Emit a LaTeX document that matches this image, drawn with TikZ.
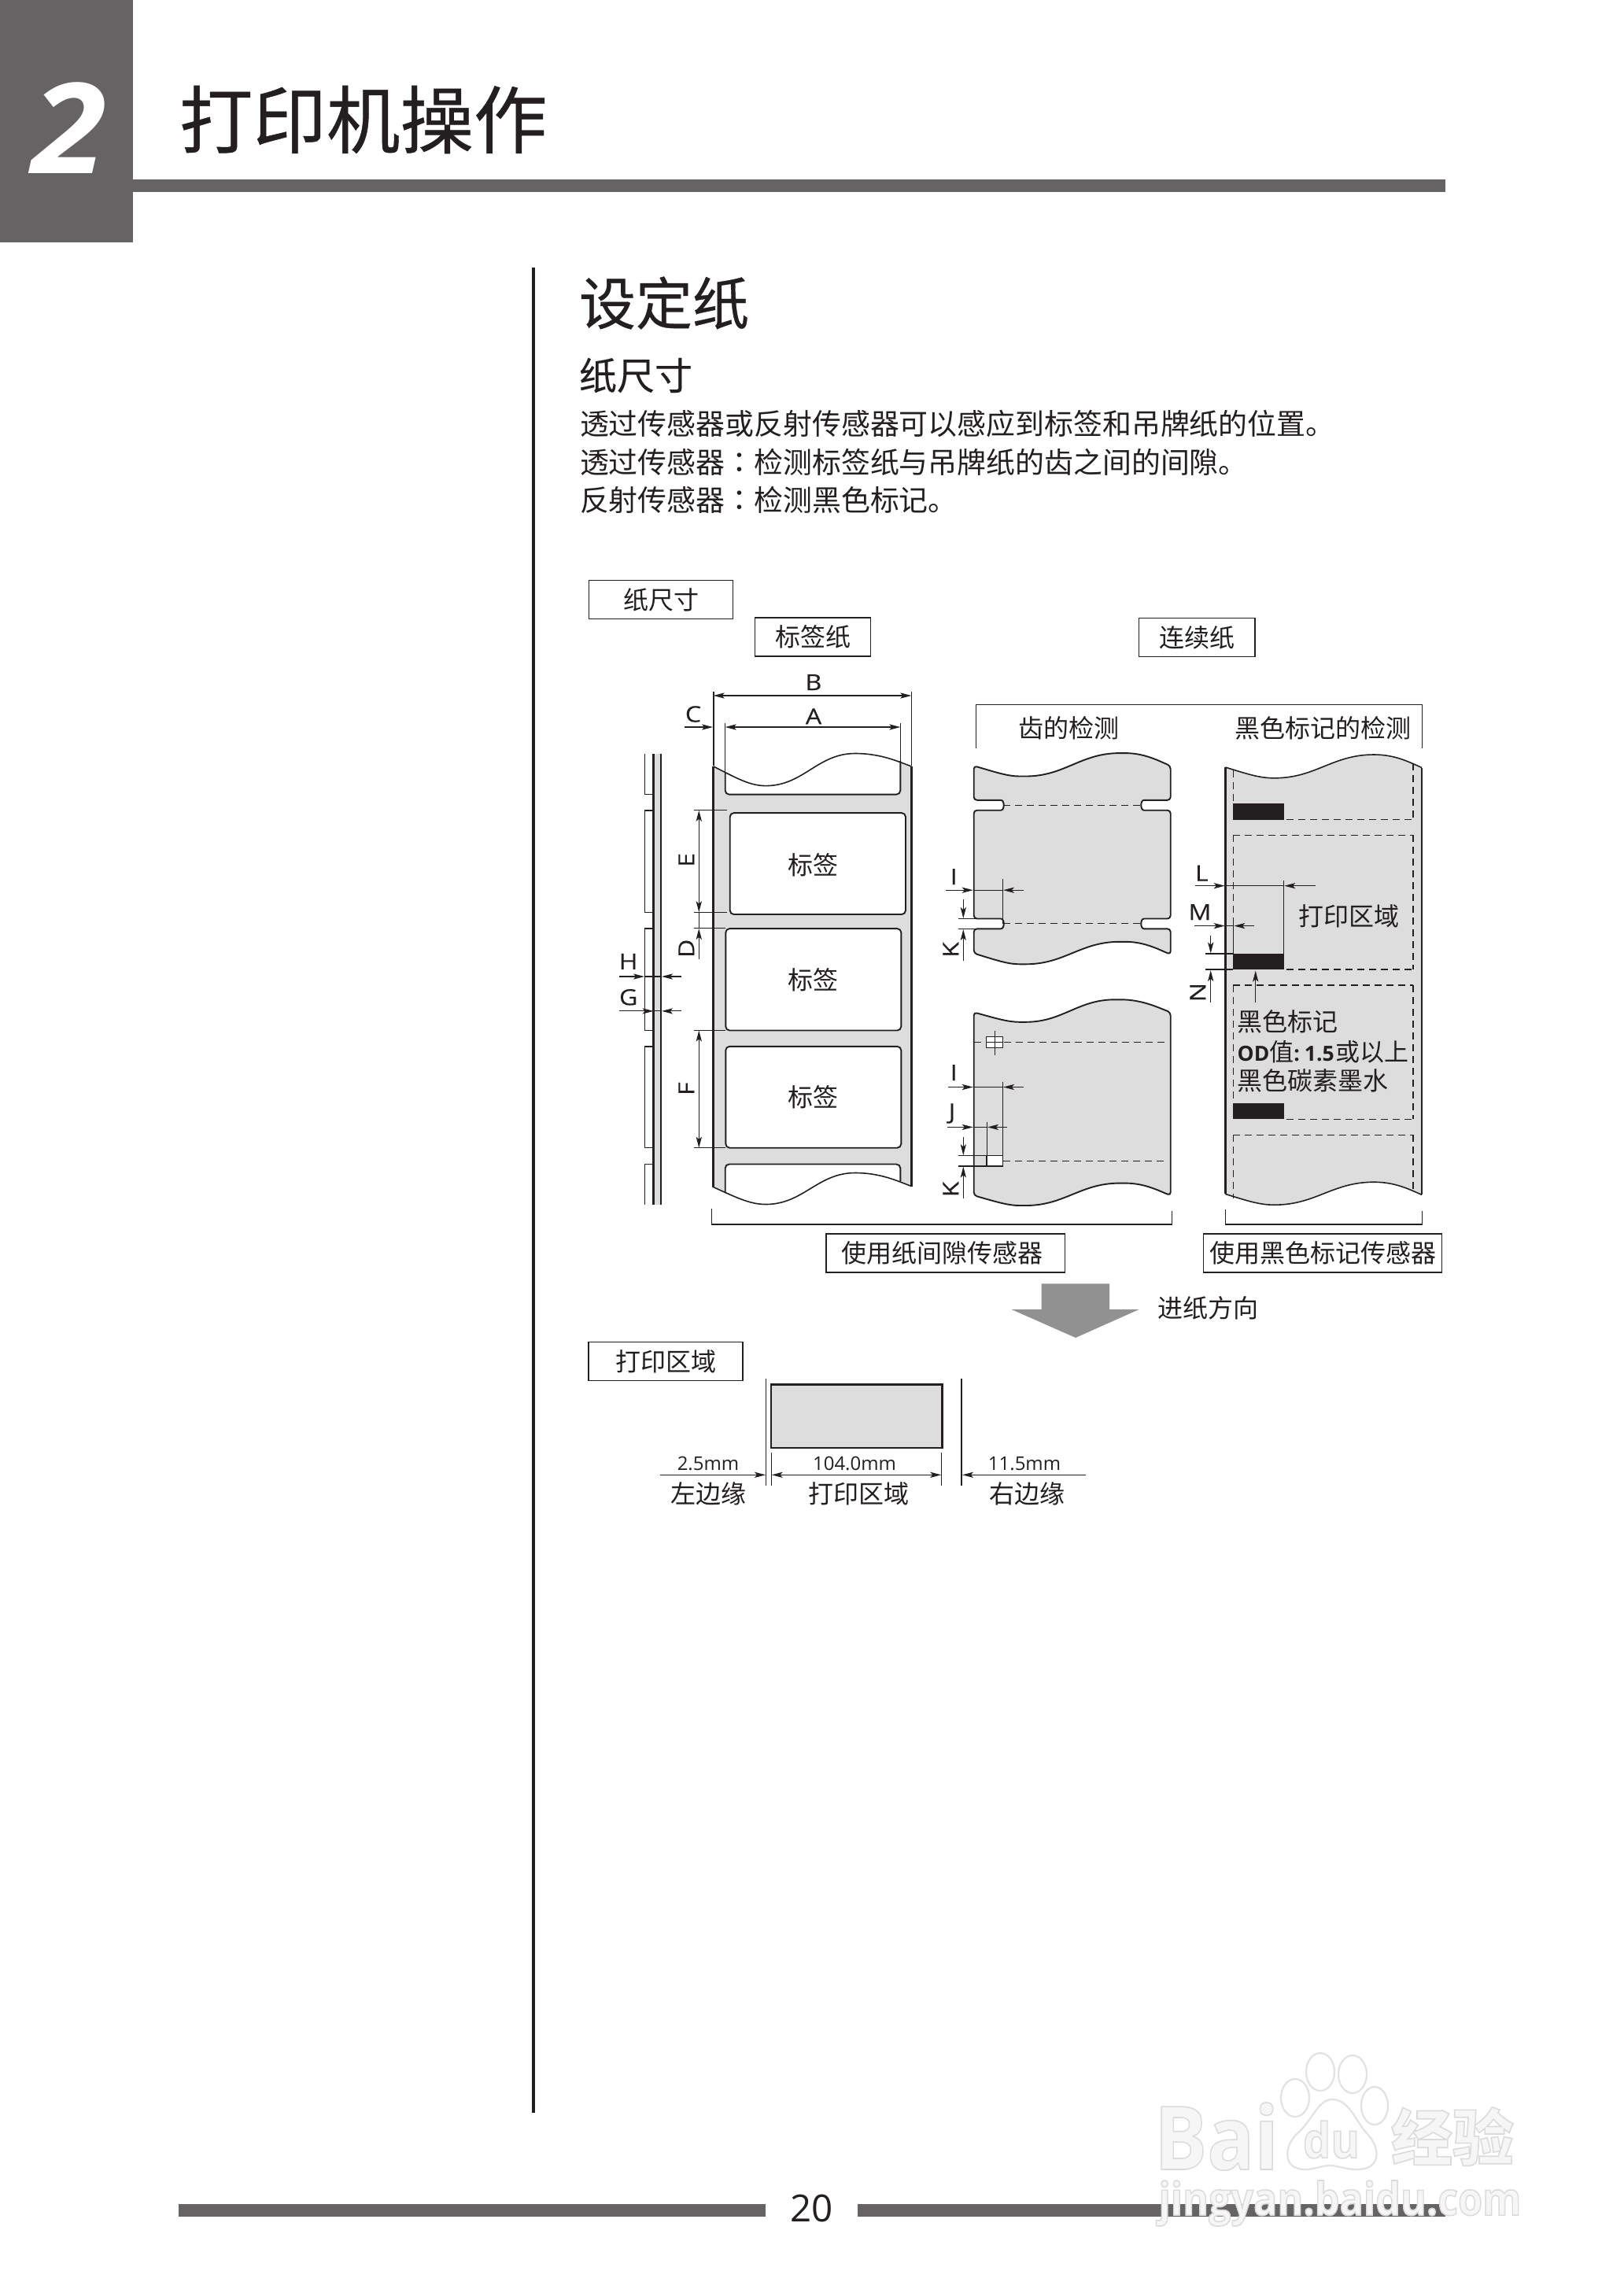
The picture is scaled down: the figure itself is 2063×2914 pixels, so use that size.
\documentclass[tikz,border=0pt]{standalone}
\usepackage{fontspec}
\usetikzlibrary{arrows.meta}
\setmainfont{Noto Sans CJK SC}
\newfontfamily\cjkmed[FakeBold=0.5]{Noto Sans CJK SC}
\newfontfamily\cjksub[FakeBold=0.25]{Noto Sans CJK SC}
\newfontfamily\cjktc{Noto Sans CJK TC}
\newfontfamily\lat{Open Sans}
\newfontfamily\latw[FakeStretch=1.15,FakeBold=0.15]{Open Sans}
\newcommand\fs[1]{\fontsize{\fpeval{#1/2}}{\fpeval{#1*0.6}}\selectfont}
\newcommand\wmtxt[1]{\special{pdf:code 2 Tr 0.8 w 0.86 G}#1\special{pdf:code 0 Tr}}
\definecolor{ink}{HTML}{231F20}
\definecolor{band}{HTML}{656364}
\definecolor{paper}{HTML}{DDDDDD}
\definecolor{wmk}{HTML}{E2E2E2}
\definecolor{wmf}{HTML}{F6F6F6}
\newcommand\wvf[8]{(#1,#2) .. controls ({#1+0.45*(#3)},{#2+0.62*(#4)}) and ({#1+0.7*(#3)},{#2+(#4)}) .. ({#1+(#3)},{#2+(#4)}) .. controls ({#1+(#3)+0.42*((#5)-(#3))},{#2+(#4)}) and ({#1+(#5)-0.42*((#5)-(#3))},{#2+(#6)}) .. ({#1+(#5)},{#2+(#6)}) .. controls ({#1+(#5)+0.45*((#7)-(#5))},{#2+(#6)}) and ({#1+(#5)+0.75*((#7)-(#5))},{#2+(#8)+0.4*((#6)-(#8))}) .. ({#1+(#7)},{#2+(#8)})}
\newcommand\wvr[8]{.. controls ({#1+(#5)+0.75*((#7)-(#5))},{#2+(#8)+0.4*((#6)-(#8))}) and ({#1+(#5)+0.45*((#7)-(#5))},{#2+(#6)}) .. ({#1+(#5)},{#2+(#6)}) .. controls ({#1+(#5)-0.42*((#5)-(#3))},{#2+(#6)}) and ({#1+(#3)+0.42*((#5)-(#3))},{#2+(#4)}) .. ({#1+(#3)},{#2+(#4)}) .. controls ({#1+0.7*(#3)},{#2+(#4)}) and ({#1+0.45*(#3)},{#2+0.62*(#4)}) .. (#1,#2)}
\tikzset{
  txt/.style={inner sep=0pt,outer sep=0pt,text=ink},
  zh/.style={txt,font=\fs{32}},
  let/.style={txt,font=\fs{28}\latw},
  mmt/.style={txt,font=\fs{24}\lat},
  boxn/.style={txt,font=\fs{32},draw=ink,line width=0.75pt,minimum width=#1*0.5pt,minimum height=24.5pt},
  thinl/.style={draw=ink,line width=0.55pt},
  dimr/.style={thinl,-{Stealth[length=7pt,width=3.6pt,inset=1.6pt]}},
  dimb/.style={thinl,{Stealth[length=7pt,width=3.6pt,inset=1.6pt]}-{Stealth[length=7pt,width=3.6pt,inset=1.6pt]}},
  lab/.style={draw=ink,line width=0.95pt,rounded corners=2.5pt},
  sidel/.style={draw=ink,line width=1.4pt},
  wavel/.style={draw=ink,line width=0.8pt},
  outl/.style={draw=ink,line width=0.95pt,fill=paper,rounded corners=2pt},
  dthin/.style={draw=ink,line width=0.5pt,dash pattern=on 4.5pt off 3pt},
  dthick/.style={draw=ink,line width=0.9pt,dash pattern=on 4.5pt off 3pt},
  wml/.style={draw=wmk,line width=1.1pt},
  wmn/.style={inner sep=0pt,text=wmf}
}
\begin{document}
\begin{tikzpicture}[x=0.5pt,y=-0.5pt]
\useasboundingbox (0,0) rectangle (2063,2914);
\fill[white] (0,0) rectangle (2063,2914);
% header
\fill[band] (0,0) rectangle (169,307.7);
\fill[band] (169,228) rectangle (1836.7,243.7);
\node[inner sep=0pt,text=white,font=\fs{160}\lat\bfseries\itshape] (chapno) at (88,163) {\scalebox{1.08}[1]{2}};
\node[txt,anchor=west,font=\fs{93.5}\cjkmed] (title) at (228,152) {打印机操作};
\fill[ink] (676,340) rectangle (680,2685);
\node[txt,anchor=west,font=\fs{72}\cjkmed] (sec) at (736,385) {设定纸};
\node[txt,anchor=west,font=\fs{48}\cjksub] (subsec) at (736,477) {纸尺寸};
\node[txt,anchor=west,font=\fs{36.9}] (p1) at (737,538) {透过传感器或反射传感器可以感应到标签和吊牌纸的位置。};
\node[txt,anchor=west,font=\fs{36.9}] (p2) at (737,587) {透过传感器{\cjktc ：}检测标签纸与吊牌纸的齿之间的间隙。};
\node[txt,anchor=west,font=\fs{36.9}] (p3) at (737,635) {反射传感器{\cjktc ：}检测黑色标记。};
% boxes
\node[boxn=183.4] (bsize) at (840,762) {纸尺寸};
\node[boxn=147.4] (blabel) at (1033,809.6) {标签纸};
\node[boxn=147.7] (bcont) at (1521.2,810) {连续纸};
\node[boxn=303.4] (bgap) at (1201.6,1592.6) {使用纸间隙传感器\hspace*{3.7pt}};
\node[boxn=303.4] (bmark) at (1681,1592.6) {使用黑色标记传感器};
% label paper
\fill[paper] \wvf{906.7}{973.9}{66.6}{24.7}{180}{-16.4}{251.6}{0} -- (1158.3,1507.5) \wvr{906.7}{1508.6}{66.6}{21.9}{180}{-18.1}{251.6}{-1.1} -- cycle;
\fill[white,rounded corners=2.5pt] (921.7,940) -- (921.7,1009.6) -- (1144.3,1009.6) -- (1144.3,940) -- cycle;
\fill[white,rounded corners=2.5pt] (921.7,1545) -- (921.7,1479.5) -- (1144.3,1479.5) -- (1144.3,1545) -- cycle;
\path[lab,fill=white] (927.7,1033.1) rectangle (1151,1162);
\path[lab,fill=white] (922.3,1180.1) rectangle (1145.3,1309.5);
\path[lab,fill=white] (922.3,1329.8) rectangle (1145.3,1458.7);
\path[lab] (921.7,983) -- (921.7,1009.6) -- (1144.3,1009.6) -- (1144.3,967);
\path[lab] (921.7,1515) -- (921.7,1479.5) -- (1144.3,1479.5) -- (1144.3,1501);
\path[wavel] \wvf{906.7}{973.9}{66.6}{24.7}{180}{-16.4}{251.6}{0};
\path[wavel] \wvf{906.7}{1508.6}{66.6}{21.9}{180}{-18.1}{251.6}{-1.1};
\path[sidel] (906.7,973.9) -- (906.7,1508.6);
\path[sidel] (1158.3,973.9) -- (1158.3,1507.5);
\node[zh] (t1) at (1033.3,1099.5) {标签};
\node[zh] (t2) at (1033.3,1245.4) {标签};
\node[zh] (t3) at (1033.3,1394.5) {标签};
% A B C
\path[thinl,line width=0.8pt] (906.7,879) -- (906.7,973);
\path[thinl] (1158.3,879) -- (1158.3,973);
\path[thinl] (921.7,918.5) -- (921.7,983);
\path[thinl] (1144.3,918.5) -- (1144.3,967);
\path[dimb] (906.7,884) -- (1158.3,884);
\path[dimb] (921.7,924) -- (1144.3,924);
\path[dimr] (870,924) -- (906,924);
\node[let] (lB) at (1034,867) {B};
\node[let] (lA) at (1034,910.3) {A};
\node[let] (lC) at (881,907.5) {C};
% side view
\fill[paper] (830.7,957.5) rectangle (840,1530.5);
\path[sidel] (830.7,957.5) -- (830.7,1530.5);
\path[sidel] (840,957.5) -- (840,1530.5);
\path[thinl,line width=0.7pt] (819.3,957.5) -- (819.3,1009.6) -- (830.7,1009.6);
\path[thinl,line width=0.7pt] (830.7,1029.8) -- (819.3,1029.8) -- (819.3,1159.3) -- (830.7,1159.3);
\path[thinl,line width=0.7pt] (830.7,1180.1) -- (819.3,1180.1) -- (819.3,1309.5) -- (830.7,1309.5);
\path[thinl,line width=0.7pt] (830.7,1329.8) -- (819.3,1329.8) -- (819.3,1458.7) -- (830.7,1458.7);
\path[thinl,line width=0.7pt] (830.7,1479.5) -- (819.3,1479.5) -- (819.3,1530.5);
% H G
\path[dimr] (787,1241) -- (819,1241);
\path[dimr] (866,1241) -- (841,1241);
\path[thinl] (819,1241) -- (841,1241);
\path[dimr] (787,1284.9) -- (830.5,1284.9);
\path[dimr] (866,1284.9) -- (841,1284.9);
\path[thinl] (830,1284.9) -- (841,1284.9);
\node[let] (lH) at (798.7,1221.8) {H};
\node[let] (lG) at (798.7,1267.3) {G};
% E D F
\path[thinl] (882.3,1029.8) -- (924,1029.8);
\path[thinl] (882.3,1159.3) -- (924,1159.3);
\path[thinl,line width=0.8pt] (882.3,1179.6) -- (922,1179.6);
\path[thinl] (882.3,1309.5) -- (922,1309.5);
\path[thinl] (882.3,1458.7) -- (922,1458.7);
\path[dimb,line width=0.8pt] (888.3,1029.8) -- (888.3,1159.3);
\path[thinl,line width=0.8pt] (888.3,1159.3) -- (888.3,1179.6);
\path[dimr,line width=0.8pt] (888.3,1219) -- (888.3,1180);
\path[dimb,line width=0.8pt] (888.3,1309.5) -- (888.3,1458.7);
\node[let,rotate=90] (lE) at (872.3,1092.9) {E};
\node[let,rotate=90] (lD) at (872.3,1205.3) {D};
\node[let,rotate=90] (lF) at (872.3,1383.6) {F};
% brackets
\path[thinl,line width=0.65pt] (904.3,1536) -- (904.3,1556) -- (1489.3,1556) -- (1489.3,1539);
\path[thinl,line width=0.65pt] (1557.3,1536.7) -- (1557.3,1556) -- (1807.3,1556) -- (1807.3,1539);
\path[thinl,line width=0.65pt] (1240.3,951.2) -- (1240.3,895.2) -- (1807.3,895.2) -- (1807.3,951);
\node[zh] (th1) at (1358.3,925) {齿的检测};
\node[zh] (th2) at (1681.7,925) {黑色标记的检测};
% notched paper
\path[outl] \wvf{1237.7}{973.2}{62}{13.3}{189}{-16.1}{250}{0} -- (1487.7,1016.8) -- (1458,1016.8) .. controls (1449,1016.8) and (1449,1029.7) .. (1458,1029.7) -- (1487.7,1029.7) -- (1487.7,1167.5) -- (1458,1167.5) .. controls (1449,1167.5) and (1449,1180.3) .. (1458,1180.3) -- (1487.7,1180.3) -- (1487.7,1212.9) \wvr{1237.7}{1211.5}{62}{13.8}{189}{-14.7}{250}{1.4} -- (1237.7,1180.3) -- (1268,1180.3) .. controls (1277,1180.3) and (1277,1167.5) .. (1268,1167.5) -- (1237.7,1167.5) -- (1237.7,1029.7) -- (1268,1029.7) .. controls (1277,1029.7) and (1277,1016.8) .. (1268,1016.8) -- (1237.7,1016.8) -- cycle;
\path[dthin] (1275,1023.3) -- (1451.7,1023.3);
\path[dthin] (1275,1173.9) -- (1451.7,1173.9);
\path[thinl] (1274.3,1117) -- (1274.3,1173.9);
\path[dimr] (1202.3,1131.2) -- (1236.7,1131.2);
\path[dimr] (1300.7,1131.2) -- (1275,1131.2);
\path[thinl] (1236.7,1131.2) -- (1275,1131.2);
\path[thinl] (1218.3,1167.5) -- (1240,1167.5);
\path[thinl] (1218.3,1180.3) -- (1240,1180.3);
\path[dimr] (1224.3,1143.1) -- (1224.3,1167);
\path[dimr] (1224.3,1220.7) -- (1224.3,1181);
\node[let] (lI1) at (1212.3,1114.2) {I};
\node[let,rotate=90] (lK1) at (1208.3,1207) {K};
% hole paper
\path[outl] \wvf{1237.7}{1286.4}{62}{12.4}{183}{-16.1}{250}{0} -- (1487.7,1519.2) \wvr{1237.7}{1519.2}{62}{12.8}{189}{-15.6}{250}{0} -- cycle;
\path[dthick] (1238.3,1324.5) -- (1253,1324.5);
\path[dthick] (1275.5,1324.5) -- (1483.3,1324.5);
\path[draw=ink,line width=0.7pt,fill=white] (1253.7,1317.6) rectangle (1274.7,1331.4);
\path[thinl] (1253.7,1324.5) -- (1274.7,1324.5);
\path[thinl] (1264.3,1310.3) -- (1264.3,1340.6);
\path[dthin] (1275,1475.6) -- (1483.3,1475.6);
\path[draw=ink,line width=0.7pt,fill=white] (1253.7,1468.7) rectangle (1274.7,1482);
\path[thinl,line width=0.9pt] (1253.9,1468.7) -- (1253.9,1482);
\path[thinl] (1274.3,1374.6) -- (1274.3,1468.7);
\path[thinl] (1254.3,1425.5) -- (1254.3,1468.7);
\path[dimr] (1205,1381.5) -- (1236.7,1381.5);
\path[dimr] (1300.7,1381.5) -- (1275,1381.5);
\path[thinl] (1236.7,1381.5) -- (1275,1381.5);
\path[dimr] (1204,1432.4) -- (1236.7,1432.4);
\path[dimr] (1280,1432.4) -- (1255,1432.4);
\path[thinl] (1236.7,1432.4) -- (1255,1432.4);
\path[thinl] (1218.3,1468.7) -- (1253.7,1468.7);
\path[thinl] (1218.3,1482) -- (1253.7,1482);
\path[dimr] (1224.3,1444.8) -- (1224.3,1468.2);
\path[dimr] (1224.3,1522.9) -- (1224.3,1482.5);
\node[let] (lI2) at (1212.3,1363) {I};
\node[let] (lJ) at (1210,1415) {J};
\node[let,rotate=90] (lK2) at (1208.3,1511.4) {K};
% mark paper
\fill[paper] \wvf{1557.3}{975}{62}{13.8}{189}{-16}{249.7}{0.5} -- (1807,1518.3) \wvr{1557.3}{1517.4}{62}{13.8}{189}{-15.2}{249.7}{0.9} -- cycle;
\path[wavel] \wvf{1557.3}{975}{62}{13.8}{189}{-16}{249.7}{0.5};
\path[wavel] \wvf{1557.3}{1517.4}{62}{13.8}{189}{-15.2}{249.7}{0.9};
\path[sidel] (1557.3,975) -- (1557.3,1517.4);
\path[sidel] (1807,975.5) -- (1807,1518.3);
\path[dthin] (1567.3,978.7) -- (1567.3,1021);
\path[dthin] (1567.3,1061.4) -- (1567.3,1212);
\path[dthin] (1567.3,1252) -- (1567.3,1402);
\path[dthin] (1567.3,1442.1) -- (1567.3,1523);
\path[dthick] (1796,969.5) -- (1796,1041.6);
\path[dthick] (1796,1061.4) -- (1796,1232.2);
\path[dthick] (1796,1252) -- (1796,1422.3);
\path[dthick] (1796,1442.1) -- (1796,1511.4);
\path[dthin] (1635,1041.6) -- (1796,1041.6);
\path[dthin] (1567.3,1061.4) -- (1796,1061.4);
\path[dthick] (1635,1232.2) -- (1796,1232.2);
\path[dthick] (1567.3,1252) -- (1796,1252);
\path[dthin] (1635,1422.3) -- (1796,1422.3);
\path[dthin] (1567.3,1442.1) -- (1796,1442.1);
\fill[ink] (1567.3,1021) rectangle (1632,1041.6);
\fill[ink] (1567.3,1212) rectangle (1632,1232.2);
\fill[ink] (1567.3,1402.1) rectangle (1632,1422.3);
\path[thinl] (1631.7,1118.8) -- (1631.7,1212);
\path[thinl] (1567.3,1170) -- (1567.3,1212);
\path[dimr] (1519,1125.7) -- (1556.7,1125.7);
\path[dimr] (1672,1125.7) -- (1632.3,1125.7);
\path[thinl] (1556.7,1125.7) -- (1632.3,1125.7);
\path[dimr] (1518.3,1176.6) -- (1556.7,1176.6);
\path[dimr] (1594,1176.6) -- (1568.3,1176.6);
\path[thinl] (1556.7,1176.6) -- (1568.3,1176.6);
\path[thinl] (1532.3,1212) -- (1567.3,1212);
\path[draw=ink,line width=1pt] (1532.3,1232.2) -- (1567.3,1232.2);
\path[dimr] (1538.7,1188.6) -- (1538.7,1211.5);
\path[dimr] (1538.7,1273.5) -- (1538.7,1233);
\path[dimr] (1595.7,1273.5) -- (1595.7,1233.6);
\node[let] (lL) at (1527.3,1109.6) {L};
\node[let] (lM) at (1525,1159.2) {M};
\node[let,rotate=90] (lN) at (1522.3,1261) {N};
\node[zh] (pa) at (1714,1164.7) {打印区域};
\node[zh,anchor=west] (bm1) at (1572.7,1297.9) {黑色标记};
\node[txt,font=\fs{31},anchor=west] (bm2) at (1572.7,1336.9) {{\fs{26.5}\lat\bfseries OD}值{\fs{26.5}\lat\bfseries:\hspace{3pt}1.5}\hspace{1pt}或以上};
\node[zh,anchor=west] (bm3) at (1572.7,1373.6) {黑色碳素墨水};
% feed arrow
\fill[black!43] (1323.7,1631.3) -- (1410.2,1631.3) -- (1410.2,1664) -- (1447.7,1664) -- (1367,1700) -- (1285.5,1664) -- (1323.7,1664) -- cycle;
\node[zh] (feed) at (1535.6,1662.3) {进纸方向};
% print area
\node[boxn=196.1] (bpa) at (846,1730) {打印区域};
\path[thinl,line width=0.7pt] (973.5,1752) -- (973.5,1887.7);
\path[thinl,line width=0.7pt] (1222.1,1752) -- (1222.1,1887.7);
\path[draw=ink,line width=1.25pt,fill=paper] (980,1759.7) rectangle (1197.6,1840);
\path[thinl] (980.7,1846) -- (980.7,1887.7);
\path[thinl] (1196.2,1846) -- (1196.2,1887.7);
\path[dimr] (838.7,1874.3) -- (973,1874.3);
\path[dimb] (980.7,1874.3) -- (1196.2,1874.3);
\path[dimr] (1380,1874.3) -- (1223,1874.3);
\node[mmt] (m1) at (900,1860) {2.5mm};
\node[mmt] (m2) at (1086,1860) {104.0mm};
\node[mmt] (m3) at (1302,1860) {11.5mm};
\node[zh] (e1) at (900,1898.3) {左边缘};
\node[zh] (e2) at (1091,1898.3) {打印区域};
\node[zh] (e3) at (1305.7,1898.3) {右边缘};
% footer
\fill[band] (227,2801) rectangle (973,2816.7);
\fill[band] (1090,2801) rectangle (1836.7,2816.7);
\node[txt,font=\fs{47.5}\lat] (pg) at (1031.5,2806) {20};
% watermark
\path[wml] (1678,2633) ellipse [x radius=18,y radius=24];
\path[wml] (1719,2636) ellipse [x radius=18,y radius=24];
\path[wml] (1646,2666) ellipse [x radius=18,y radius=24];
\path[wml] (1747,2676) ellipse [x radius=17,y radius=24];
\path[wml] (1693,2668) .. controls (1715,2668) and (1722,2695) .. (1738,2712) .. controls (1755,2730) and (1755,2757) .. (1725,2757) .. controls (1710,2757) and (1700,2752) .. (1690,2752) .. controls (1680,2752) and (1670,2757) .. (1658,2757) .. controls (1632,2757) and (1630,2730) .. (1648,2712) .. controls (1668,2695) and (1675,2668) .. (1693,2668) -- cycle;
\node[wmn,font=\fs{112}\lat\bfseries] (wb) at (1546,2715) {\scalebox{0.89}[1]{\wmtxt{Bai}}};
\node[wmn,font=\fs{62}\lat\bfseries] (wd) at (1692,2719) {\scalebox{0.9}[1]{\wmtxt{du}}};
\node[wmn,font=\fs{78}\bfseries] (wj) at (1846,2715) {\wmtxt{经验}};
\node[wmn,font=\fs{58}\lat\bfseries] (wu) at (1703,2800) {\scalebox{0.866}[1]{\wmtxt{jingyan.baidu.com}}};
\end{tikzpicture}
\end{document}
